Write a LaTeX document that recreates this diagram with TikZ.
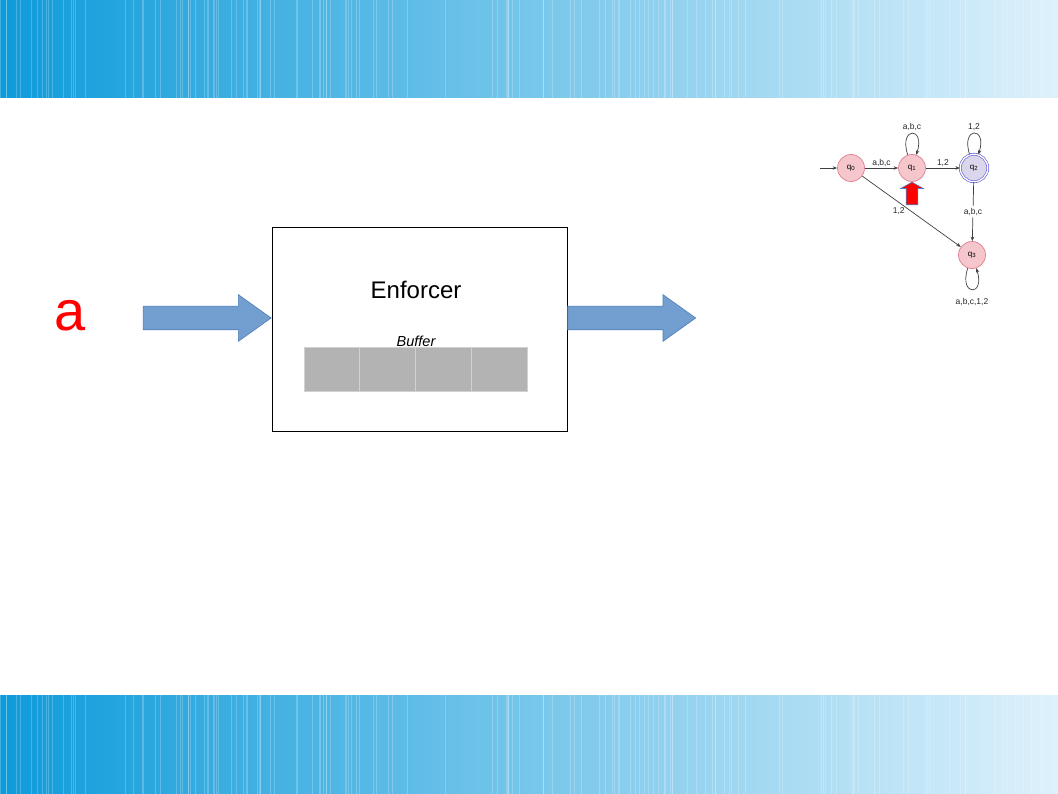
\documentclass[tikz,border=0pt]{standalone}
\usepackage{fontspec}
\setmainfont{Liberation Sans}
\usetikzlibrary{positioning,shapes.arrows,arrows.meta}
\definecolor{barleft}{HTML}{0E9BDA}
\definecolor{barright}{HTML}{DEF1FB}
\definecolor{blockblue}{HTML}{729FCF}
\definecolor{blockline}{HTML}{4F7EBA}
\definecolor{statefill}{HTML}{F5C6CC}
\definecolor{stateline}{HTML}{E07F8E}
\definecolor{acceptfill}{HTML}{DCD6EC}
\definecolor{acceptline}{HTML}{5A5AD2}
\definecolor{cellgray}{HTML}{B3B3B3}

\begin{document}
\begin{tikzpicture}[x=1pt,y=-1pt,
state/.style={circle,draw=stateline,fill=statefill,line width=0.7pt,minimum size=27pt,inner sep=0pt,font=\fontsize{8}{9}\selectfont},
accept/.style={circle,draw=acceptline,double=white,double distance=1.4pt,line width=0.6pt,fill=acceptfill,minimum size=27.5pt,inner sep=0pt,font=\fontsize{8}{9}\selectfont},
edge/.style={draw=black!75,line width=0.7pt,-{Stealth[length=4.5pt,width=3.5pt]}},
loopedge/.style={edge,looseness=1.3,min distance=30pt},
lbl/.style={font=\fontsize{8.5}{10}\selectfont,text=black!85,inner sep=1.5pt},
blockarrow/.style={single arrow,draw=blockline,fill=blockblue,line width=0.6pt,minimum height=128pt,single arrow head extend=11.5pt,single arrow tip angle=71,inner sep=11.5pt},
cell/.style={draw=black!18,fill=cellgray,line width=0.8pt,minimum width=55.75pt,minimum height=44pt,inner sep=0pt}]
\useasboundingbox (0,0) rectangle (1058,794);
\fill[white] (0,0) rectangle (1058,794);

% top and bottom bars
\shade[left color=barleft,right color=barright] (0,0) rectangle (1058,98);
\shade[left color=barleft,right color=barright] (0,695) rectangle (1058,794);
\pgfmathsetseed{11}
\foreach \i in {1,...,140}{
  \pgfmathsetmacro\xx{rnd*1058}
  \draw[white,opacity=.22,line width=0.8pt] (\xx,0) -- (\xx,98);
  \draw[white,opacity=.22,line width=0.8pt] (\xx,695) -- (\xx,794);
}

% enforcer
\node (enf) [draw,line width=0.8pt,minimum width=295pt,minimum height=204pt,inner sep=0pt] at (419.5,329) {};
\node (title) [font=\fontsize{24}{28}\selectfont] at (416,290) {Enforcer};
\node (buflbl) [font=\fontsize{14.5}{16}\selectfont\itshape] at (416,341) {Buffer};
\foreach \n in {1,...,4}
  \node (buf\n) [cell] at (304+55.75*\n-27.875,369) {};

% input and block arrows
\node (input) [text=red,font=\fontsize{56}{60}\selectfont] at (70,316) {a};
\node (inarrow) [blockarrow,anchor=tip] at (enf.west |- 0,318) {};
\node (outarrow) [blockarrow,anchor=tail] at (enf.east |- 0,318) {};

% automaton
\node (q0) [state] at (851,168) {q\textsubscript{0}};
\node (q1) [state] at (912,168) {q\textsubscript{1}};
\node (q2) [accept] at (974,168) {q\textsubscript{2}};
\node (q3) [state] at (972,255) {q\textsubscript{3}};
\coordinate (start) at (820,168);

\draw[edge] (start) -- (q0);
\draw[edge] (q0) -- node[lbl,above] {a,b,c} (q1);
\draw[edge] (q1) -- node[lbl,above] {1,2} (q2);
\draw[edge] (q0) -- node[lbl,pos=.37,below=3pt] {1,2} (q3);
\draw[edge] (q2) -- node[lbl,fill=white] {a,b,c} (q3);
\draw[loopedge] (q1) to[out=108,in=72] node[lbl,above=1pt] {a,b,c} (q1);
\draw[loopedge] (q2) to[out=108,in=72] node[lbl,above=1pt] {1,2} (q2);
\draw[loopedge] (q3) to[out=-108,in=-72] node[lbl,below=7pt] {a,b,c,1,2} (q3);

% pointer
\node (ptr) [single arrow,shape border rotate=90,draw=blockline,fill=red,line width=0.6pt,minimum height=22.6pt,single arrow head extend=5.5pt,single arrow tip angle=122,inner sep=5.5pt,anchor=tip] at (q1.south) {};
\end{tikzpicture}
\end{document}
